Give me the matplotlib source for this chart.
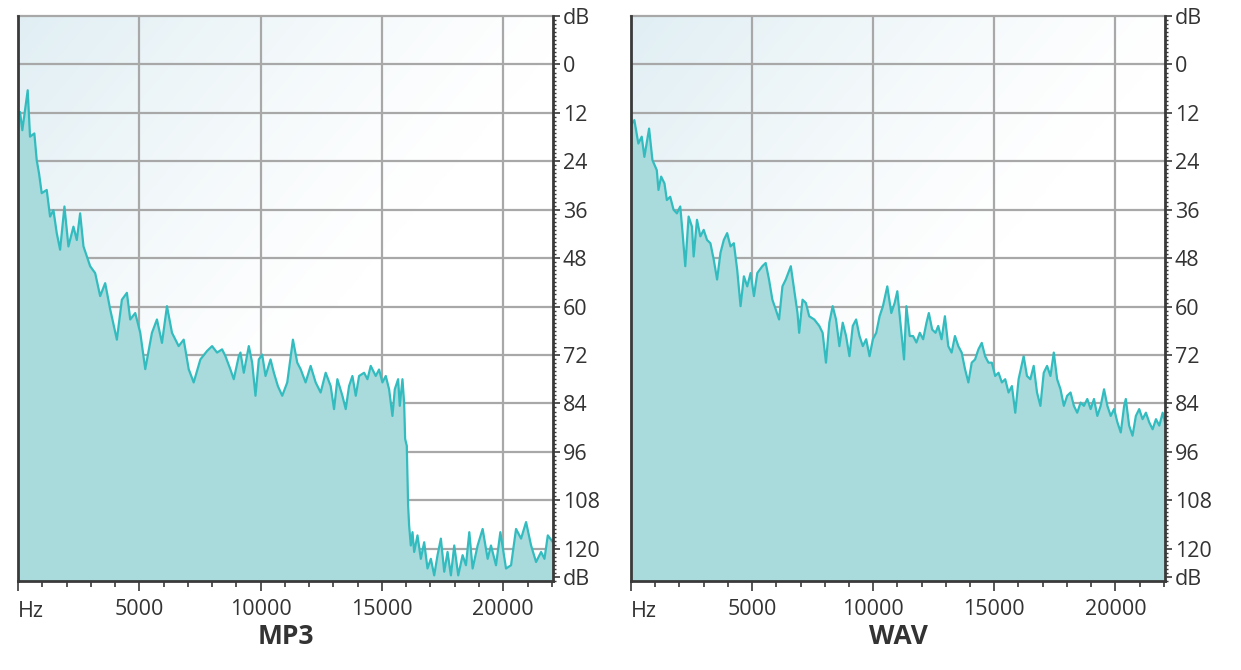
import numpy as np
import matplotlib
matplotlib.use("Agg")
import matplotlib.pyplot as plt
from matplotlib.ticker import FixedLocator, MultipleLocator

plt.rcParams['font.family'] = ['Open Sans', 'DejaVu Sans']

# ---------------- data ----------------
mp3_hz = [0, 83, 178, 400, 496, 674, 771, 867, 977, 1184, 1322, 1460, 1597, 1735, 1914,
          2079, 2285, 2423, 2561, 2699, 2974, 3180, 3387, 3593, 3800, 4075, 4282, 4488,
          4626, 4832, 5039, 5245, 5521, 5727, 5934, 6140, 6347, 6622, 6829, 7035, 7241,
          7517, 7792, 7999, 8205, 8412, 8550, 8756, 8893, 9100, 9169, 9306, 9513, 9651,
          9788, 9926, 10064, 10202, 10408, 10546, 10711, 10890, 11097, 11331, 11510,
          11648, 11854, 12061, 12268, 12474, 12681, 12887, 13025, 13163, 13370, 13507,
          13645, 13783, 13921, 14058, 14265, 14403, 14538, 14744, 14882, 15020, 15157,
          15295, 15433, 15529, 15667, 15735, 15845, 15914, 15956, 16024, 16079, 16121,
          16190, 16259, 16328, 16465, 16603, 16741, 16878, 17016, 17154, 17291, 17429,
          17567, 17704, 17842, 17980, 18145, 18324, 18462, 18600, 18737, 18944, 19150,
          19357, 19494, 19701, 19880, 20114, 20321, 20527, 20734, 20940, 21147, 21353,
          21560, 21698, 21836, 22050]
mp3_db = [12.0, 11.8, 16.3, 6.4, 17.9, 17.1, 23.7, 27.0, 31.9, 31.1, 37.7, 36.1, 41.8, 45.9,
          35.2, 45.1, 40.2, 43.5, 36.9, 45.1, 50.0, 51.7, 57.4, 54.2, 60.7, 68.2, 58.3,
          56.6, 63.2, 61.6, 66.5, 75.5, 66.5, 63.2, 69.0, 59.9, 66.5, 69.8, 68.2, 75.5,
          78.8, 73.1, 71.0, 69.8, 71.4, 70.6, 72.3, 75.6, 78.0, 72.3, 71.4, 76.4, 69.8,
          73.9, 82.1, 73.1, 71.9, 77.2, 73.1, 76.4, 79.7, 82.1, 78.8, 68.2, 73.9, 75.5,
          78.8, 74.7, 78.8, 81.3, 76.4, 79.7, 85.4, 78.0, 82.1, 85.4, 79.7, 77.2, 82.1,
          77.2, 76.4, 78.0, 74.7, 77.2, 75.6, 78.8, 77.2, 80.5, 87.1, 80.5, 78.0, 84.6,
          78.0, 83.8, 92.8, 94.5, 109.3, 114.3, 119.2, 115.9, 120.8, 116.7, 122.5, 118.4,
          124.9, 122.5, 126.6, 121.6, 117.5, 125.7, 120.8, 126.6, 119.2, 126.6, 121.6,
          124.1, 115.9, 124.9, 119.2, 115.1, 122.5, 119.2, 124.1, 115.9, 124.9, 124.1,
          115.1, 117.5, 113.4, 119.2, 123.3, 120.8, 122.5, 116.7, 118.4]

wav_hz = [0, 138, 304, 443, 553, 747, 885, 1065, 1134, 1245, 1383, 1480, 1619, 1757, 1895,
          2034, 2130, 2241, 2379, 2517, 2587, 2725, 2864, 3002, 3140, 3279, 3417, 3555,
          3694, 3832, 3970, 4109, 4247, 4385, 4524, 4662, 4800, 4938, 5077, 5215, 5423,
          5561, 5699, 5838, 5976, 6114, 6253, 6391, 6599, 6737, 6875, 6944, 7083, 7221,
          7359, 7567, 7775, 7913, 8051, 8189, 8328, 8466, 8605, 8743, 8881, 9020, 9158,
          9296, 9435, 9573, 9711, 9850, 9988, 10126, 10265, 10403, 10583, 10749, 10887,
          10997, 11136, 11274, 11371, 11510, 11648, 11786, 11925, 12063, 12201, 12298,
          12437, 12575, 12686, 12824, 12962, 13101, 13239, 13377, 13516, 13654, 13792,
          13931, 14069, 14207, 14346, 14484, 14622, 14761, 14899, 15037, 15176, 15314,
          15452, 15590, 15729, 15867, 16005, 16213, 16351, 16490, 16628, 16766, 16905,
          17043, 17181, 17320, 17458, 17596, 17735, 17873, 18011, 18150, 18288, 18426,
          18565, 18703, 18841, 18980, 19118, 19256, 19394, 19533, 19671, 19809, 19948,
          20086, 20224, 20363, 20432, 20570, 20709, 20847, 20985, 21124, 21262, 21400,
          21539, 21677, 21815, 21954, 22050]
wav_db = [15.0, 13.8, 19.6, 17.9, 22.9, 15.9, 23.7, 26.2, 31.1, 27.8, 29.5, 33.6, 32.8, 36.0,
          36.9, 35.2, 41.8, 50.0, 37.7, 40.2, 47.6, 38.5, 42.6, 41.0, 43.5, 44.3, 48.4,
          53.3, 46.7, 43.5, 41.8, 45.1, 44.3, 50.9, 59.9, 52.5, 55.0, 51.7, 57.4, 51.7,
          50.0, 49.2, 53.3, 58.3, 60.7, 63.2, 55.0, 53.3, 50.0, 55.8, 61.6, 66.5, 58.3,
          59.1, 62.4, 63.2, 64.8, 66.5, 73.9, 64.0, 59.9, 63.2, 69.8, 64.0, 67.3, 72.3,
          64.8, 63.2, 67.3, 69.8, 68.1, 72.3, 68.1, 66.5, 62.4, 59.9, 55.0, 61.6, 59.1,
          56.2, 64.8, 73.1, 59.9, 67.3, 67.3, 68.9, 66.5, 68.1, 64.0, 61.6, 65.7, 66.5,
          64.8, 68.1, 62.4, 69.8, 71.4, 67.3, 69.8, 71.4, 75.5, 78.8, 73.9, 73.1, 70.6,
          69.0, 72.3, 73.9, 73.9, 77.2, 76.4, 78.8, 78.0, 81.3, 79.7, 86.3, 78.0, 72.3,
          77.2, 78.0, 74.7, 81.3, 84.6, 76.4, 74.7, 77.2, 71.4, 78.0, 80.5, 84.6, 82.1,
          81.3, 84.6, 86.3, 83.8, 84.6, 82.9, 85.4, 82.9, 87.1, 84.6, 80.5, 84.6, 87.1,
          85.4, 88.7, 91.2, 84.6, 82.9, 89.5, 92.0, 87.1, 85.4, 87.9, 86.3, 88.7, 90.4,
          87.9, 89.5, 86.3, 88.7]

titles = ["MP3", "WAV"]
x_ticks = [0, 5000, 10000, 15000, 20000]
x_labels = ["Hz", "5000", "10000", "15000", "20000"]
y_ticks = [-12, 0, 12, 24, 36, 48, 60, 72, 84, 96, 108, 120, 127]
y_labels = ["dB", "0", "12", "24", "36", "48", "60", "72", "84", "96", "108", "120", "dB"]

# ---------------- style ----------------
FILL = "#a9dadc"
LINE = "#33bcbf"
GRID = "#a8a8a8"
SPINE = "#3a3a3a"
TXT = "#333333"

fig = plt.figure(figsize=(12.41, 6.70), dpi=100)
W, H = 1241, 670
positions = [(18, 16, 535, 565), (631, 16, 534, 565)]

# gradient background image
gx = np.linspace(0, 1, 200)
gy = np.linspace(0, 1, 200)
GX, GY = np.meshgrid(gx, gy)
w = np.clip(1 - (GX * 1.0 + GY * 0.9) / 1.05, 0, 1) ** 1.2
base = np.array([0.88, 0.935, 0.955])
img = np.ones((200, 200, 3)) * (1 - w[..., None]) + base * w[..., None]

for (px, py, pw, ph), hz, db, title in zip(positions, [mp3_hz, wav_hz], [mp3_db, wav_db], titles):
    ax = fig.add_axes([px / W, 1 - (py + ph) / H, pw / W, ph / H])
    ax.imshow(img, extent=[0, 1, 0, 1], transform=ax.transAxes, aspect='auto',
              zorder=0, origin='upper')
    hz = np.asarray(hz, float)
    db = np.asarray(db, float)
    ax.fill_between(hz, db, 130, color=FILL, lw=0, zorder=2)
    ax.plot(hz, db, color=LINE, lw=1.6, zorder=3)
    ax.set_xlim(0, 22050)
    ax.set_ylim(128, -12)

    ax.set_axisbelow(True)
    ax.xaxis.set_major_locator(FixedLocator(x_ticks))
    ax.xaxis.set_minor_locator(MultipleLocator(1000))
    ax.yaxis.set_major_locator(FixedLocator(y_ticks))
    ax.yaxis.set_minor_locator(MultipleLocator(1))
    ax.yaxis.tick_right()
    ax.set_yticklabels(y_labels)
    ax.set_xticklabels([""] + x_labels[1:])
    ax.text(0, -0.035, x_labels[0], transform=ax.get_xaxis_transform(), ha='left',
            va='top', fontsize=15.5, color=TXT)
    for t in ax.get_yticklabels():
        t.set_ha('left')
    ax.tick_params(axis='x', which='major', direction='out', length=7, width=1.2,
                   color=SPINE, labelsize=15.5, labelcolor=TXT, pad=6)
    ax.tick_params(axis='x', which='minor', direction='out', length=4, width=1.2,
                   color=SPINE)
    ax.tick_params(axis='y', which='major', direction='out', length=5, width=1.2,
                   color=SPINE, labelsize=15.5, labelcolor=TXT, pad=2,
                   right=True, left=False)
    ax.tick_params(axis='y', which='minor', direction='out', length=2.5, width=1.0,
                   color=SPINE, right=True, left=False)

    # grid lines from tick positions
    for yv in y_ticks[1:-1]:
        ax.axhline(yv, color=GRID, lw=1.6, zorder=1)
    for xv in x_ticks[1:]:
        ax.axvline(xv, color=GRID, lw=1.6, zorder=1)

    for s in ['left', 'bottom', 'right']:
        ax.spines[s].set_color(SPINE)
        ax.spines[s].set_linewidth(2.0)
        ax.spines[s].set_zorder(5)
    ax.spines['top'].set_color(GRID)
    ax.spines['top'].set_linewidth(1.6)

    cx = (px + pw / 2) / W
    fig.text(cx, 1 - 636 / H, title, ha='center', va='center', fontsize=19,
             fontweight='bold', color=TXT)

fig.savefig("out.png", dpi=100)
